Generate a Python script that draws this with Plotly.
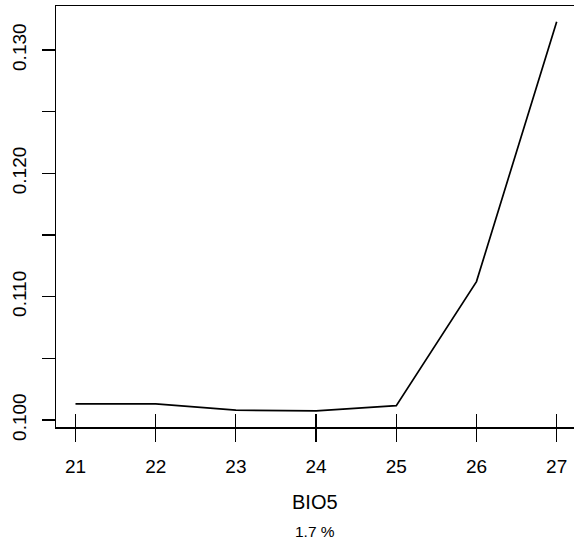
import plotly.graph_objects as go

# data
bio5 = [21, 22, 23, 24, 25, 26, 27]
response = [0.1013, 0.1013, 0.1008, 0.10073, 0.10116, 0.11122, 0.1323]
y_tickvals = [0.100, 0.105, 0.110, 0.115, 0.120, 0.125, 0.130]
y_ticktext = ["0.100", "", "0.110", "", "0.120", "", "0.130"]
x_tickvals = [21, 22, 23, 24, 25, 26, 27]
x_label = "BIO5"
sub_label = "1.7 %"

FONT = "Liberation Sans, Arial, sans-serif"
x_range = [20.757, 27.216]
y_range = [0.09943, 0.13357]

fig = go.Figure()
fig.add_trace(go.Scatter(x=bio5, y=response, mode="lines",
                         line=dict(color="black", width=1.7), showlegend=False,
                         hoverinfo="skip"))
# rug-like inside ticks via overlaying axis
fig.add_trace(go.Scatter(x=bio5, y=response, mode="lines", xaxis="x2",
                         line=dict(color="rgba(0,0,0,0)", width=0), showlegend=False,
                         hoverinfo="skip"))

fig.update_layout(
    width=574, height=546,
    margin=dict(l=56, r=0, t=6, b=119, autoexpand=False),
    paper_bgcolor="white", plot_bgcolor="white",
    font=dict(family=FONT, size=19, color="black"),
    xaxis=dict(range=x_range, tickvals=x_tickvals, ticks="outside", ticklen=13,
               tickwidth=1.2, tickcolor="black", showline=True, linecolor="black",
               linewidth=1.5, mirror=True, showgrid=False, zeroline=False,
               tickfont=dict(size=19), ticklabelstandoff=9, automargin=False),
    xaxis2=dict(range=x_range, tickvals=x_tickvals, ticks="inside", ticklen=13,
                tickwidth=1.2, tickcolor="black", showticklabels=False,
                overlaying="x", side="bottom", showgrid=False, zeroline=False,
                showline=False, automargin=False),
    yaxis=dict(range=y_range, tickvals=y_tickvals, ticktext=y_ticktext,
               ticks="outside", ticklen=13, tickwidth=1.2, tickcolor="black",
               showline=True, linecolor="black", linewidth=1.5, showgrid=False,
               zeroline=False, tickangle=-90, tickfont=dict(size=19),
               ticklabelstandoff=8, automargin=False),
    annotations=[
        dict(text=x_label, xref="paper", yref="paper", x=0.5, y=0,
             yshift=-75, xanchor="center", yanchor="middle", showarrow=False,
             font=dict(size=20)),
        dict(text=sub_label, xref="paper", yref="paper", x=0.5, y=0,
             yshift=-104, xanchor="center", yanchor="middle", showarrow=False,
             font=dict(size=15.5)),
    ],
)
fig.write_html("out.html",
               config={"displayModeBar": False, "staticPlot": True},
               post_script="document.body.style.margin='0';document.body.style.overflow='hidden';")
